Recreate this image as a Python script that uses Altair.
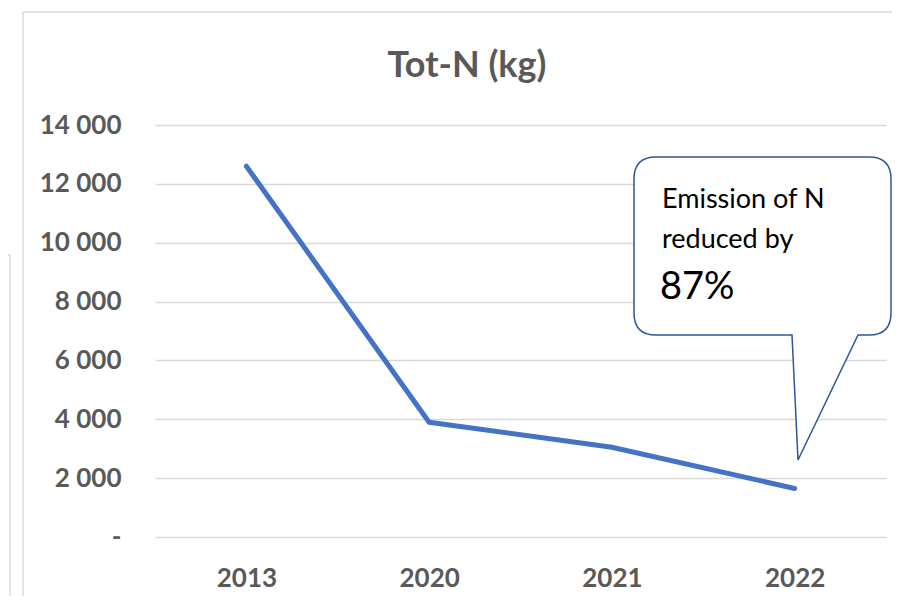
import altair as alt
import pandas as pd

# ---- data ----
years = ["2013", "2020", "2021", "2022"]
tot_n = [12600, 3900, 3050, 1650]
y_ticks = [0, 2000, 4000, 6000, 8000, 10000, 12000, 14000]
title_text = "Tot-N (kg)"
callout_lines = ["Emission of N", "reduced by"]
callout_pct = "87%"

df = pd.DataFrame({"year": years, "value": tot_n})
one = pd.DataFrame({"k": [0]})

# ---- layout constants (page pixel coords -> plot coords) ----
OX, OY = 155, 125          # page position of plot origin
W, H = 731, 412
FONT = "Lato"
GRID = "#d9d9d9"
LABEL = "#595959"
BLUE = "#4472C4"
CALLOUT = "#2F5597"


def px(x):
    return x - OX


def py(y):
    return y - OY


line = alt.Chart(df).mark_line(
    color=BLUE, strokeWidth=5, strokeCap="round", strokeJoin="round"
).encode(
    x=alt.X(
        "year:O",
        sort=years,
        scale=alt.Scale(type="point", padding=0.5),
        axis=alt.Axis(
            title=None, labelAngle=0, domain=False, ticks=False, tickSize=0,
            grid=False, labelFont=FONT, labelFontWeight="bold", labelFontSize=26,
            labelColor=LABEL, labelPadding=49, labelBaseline="alphabetic",
        ),
    ),
    y=alt.Y(
        "value:Q",
        scale=alt.Scale(domain=[0, 14000], nice=False),
        axis=alt.Axis(
            title=None, values=y_ticks, domain=False, ticks=False, tickSize=0,
            gridColor=GRID, gridWidth=1.5, labelFont=FONT, labelFontWeight="bold",
            labelFontSize=26, labelColor=LABEL, labelPadding=34,
            labelExpr="datum.value == 0 ? '-\u2007' : replace(format(datum.value, ','), ',', ' ')",
        ),
    ),
)

# frames (chart border of the screenshot)
frame_v = alt.Chart(one).mark_rule(color=GRID, strokeWidth=1.5).encode(
    x=alt.value(px(23)), y=alt.value(py(12)), y2=alt.value(py(640)))
frame_h = alt.Chart(one).mark_rule(color=GRID, strokeWidth=1.5).encode(
    x=alt.value(px(23)), x2=alt.value(px(960)), y=alt.value(py(12)))
frame2_v = alt.Chart(one).mark_rule(color=GRID, strokeWidth=1.5).encode(
    x=alt.value(px(10)), y=alt.value(py(255)), y2=alt.value(py(640)))
frame2_h = alt.Chart(one).mark_rule(color=GRID, strokeWidth=1.5).encode(
    x=alt.value(px(-10)), x2=alt.value(px(10)), y=alt.value(py(255)))

title = alt.Chart(one).mark_text(
    text=title_text, font=FONT, fontWeight="bold", fontSize=36, color=LABEL,
    align="center", baseline="alphabetic",
).encode(x=alt.value(px(467)), y=alt.value(py(77)))

# callout bubble as one custom symbol path (units of 100 px)
L, R, T, B, r = 634, 891, 157, 335, 22
tail_l, tail_r, tip = 792, 858, (798, 460)
CXp, CYp = (L + R) / 2, (T + B) / 2


def rel(x, y):
    return f"{(x - CXp) / 100:.4f},{(y - CYp) / 100:.4f}"


path = (
    f"M{rel(L + r, T)} L{rel(R - r, T)} Q{rel(R, T)} {rel(R, T + r)} "
    f"L{rel(R, B - r)} Q{rel(R, B)} {rel(R - r, B)} L{rel(tail_r, B)} "
    f"L{rel(*tip)} L{rel(tail_l, B)} L{rel(L + r, B)} Q{rel(L, B)} {rel(L, B - r)} "
    f"L{rel(L, T + r)} Q{rel(L, T)} {rel(L + r, T)} Z"
)

bubble = alt.Chart(one).mark_point(
    shape=path, size=40000, filled=True, fill="white", stroke=CALLOUT,
    strokeWidth=1.5, opacity=1,
).encode(x=alt.value(px(CXp)), y=alt.value(py(CYp)))

t1 = alt.Chart(one).mark_text(
    text=callout_lines[0], font=FONT, fontSize=27, color="black",
    align="left", baseline="alphabetic",
).encode(x=alt.value(px(662)), y=alt.value(py(208)))
t2 = alt.Chart(one).mark_text(
    text=callout_lines[1], font=FONT, fontSize=27, color="black",
    align="left", baseline="alphabetic",
).encode(x=alt.value(px(662)), y=alt.value(py(248)))
t3 = alt.Chart(one).mark_text(
    text=callout_pct, font=FONT, fontSize=38, color="black",
    align="left", baseline="alphabetic",
).encode(x=alt.value(px(660)), y=alt.value(py(299)))

chart = alt.layer(
    frame_v, frame_h, frame2_v, frame2_h, line, bubble, t1, t2, t3, title
).properties(
    width=W, height=H,
    padding={"left": OX - 8, "top": OY - 8, "right": 884 - (OX - 8) - W, "bottom": 59},
    autosize=alt.AutoSizeParams(type="none"),
    background="white",
).configure_view(stroke=None)

chart.save("out.html", embed_options={"renderer": "svg", "actions": False})
